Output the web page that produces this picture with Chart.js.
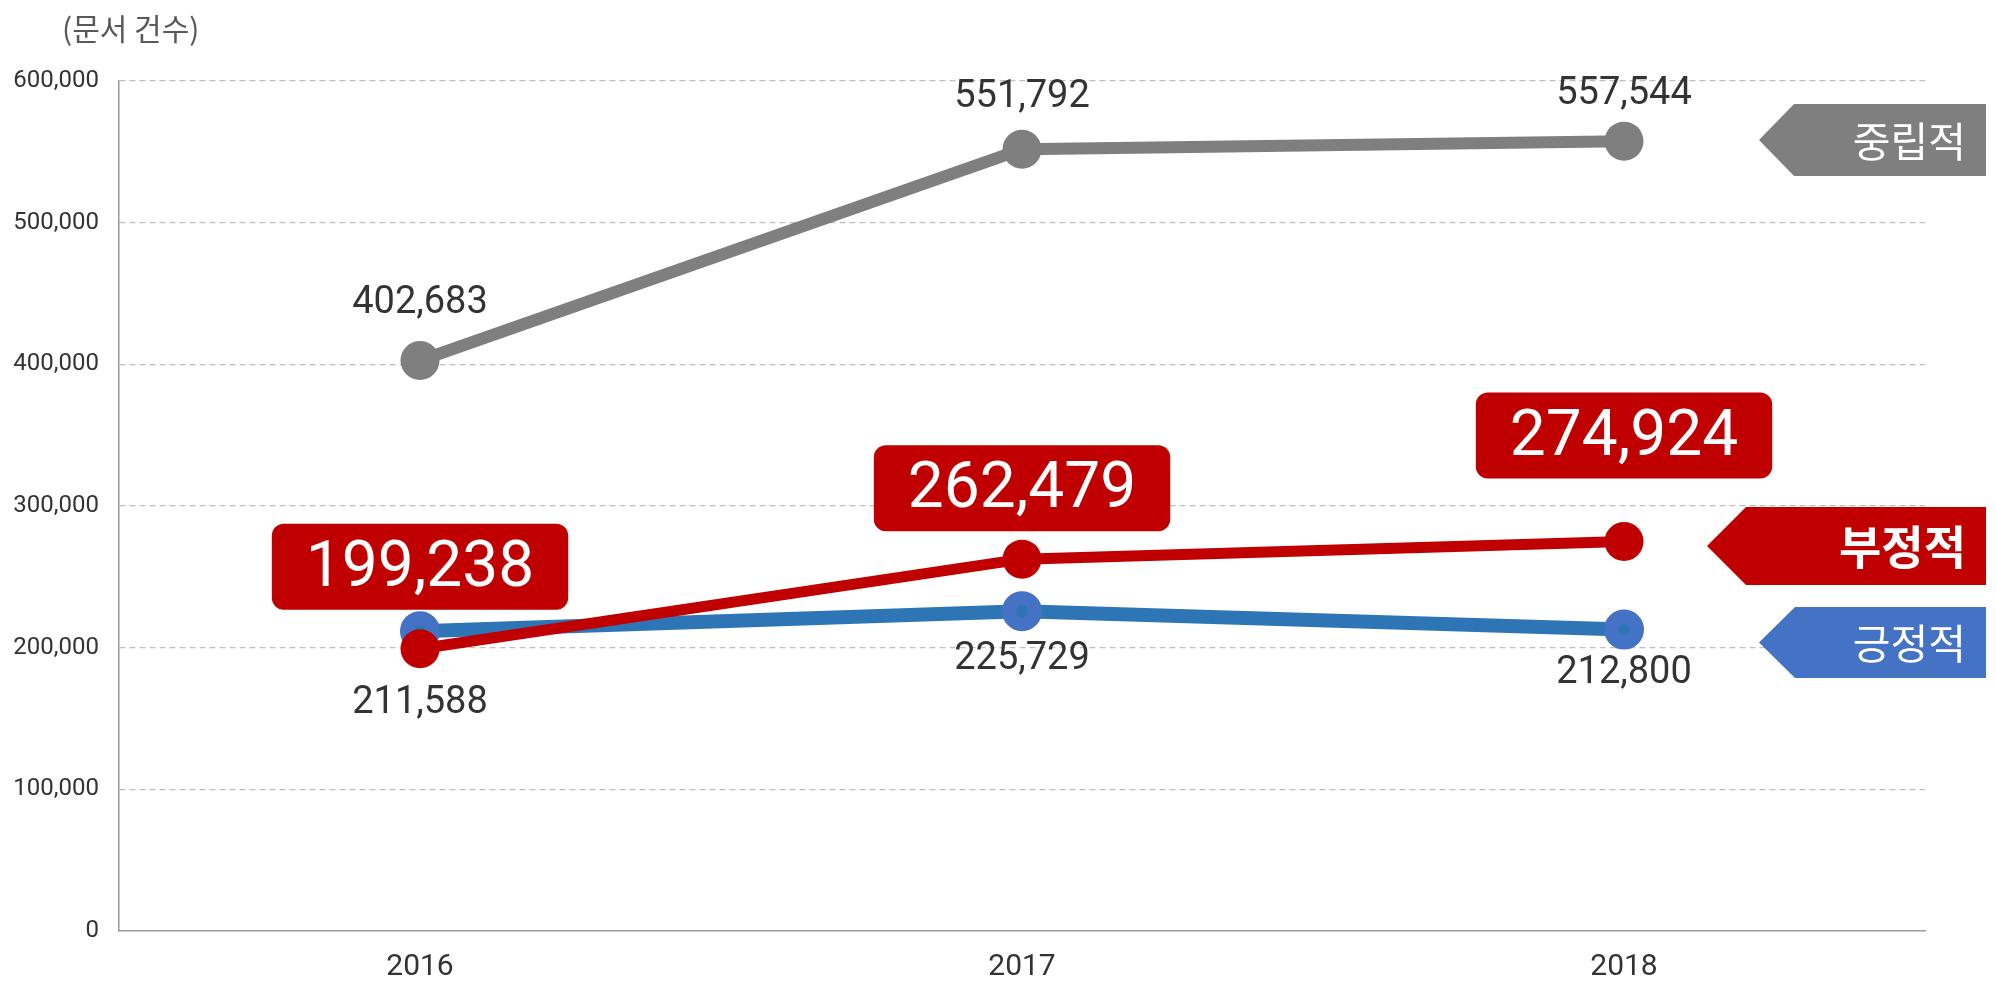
<!DOCTYPE html>
<html><head><meta charset="utf-8">
<script src="https://cdn.jsdelivr.net/npm/chart.js@4"></script>
<style>html,body{margin:0;padding:0;background:#fff}#wrap{width:1996px;height:983px}</style>
</head><body><div id="wrap"><canvas id="c" width="1996" height="983"></canvas></div>
<script>
const categories = ['2016', '2017', '2018'];
const neutral = [402683, 551792, 557544];
const negative = [199238, 262479, 274924];
const positive = [211588, 225729, 212800];
const yTicks = [0, 100000, 200000, 300000, 400000, 500000, 600000];
const seriesNames = ['중립적', '부정적', '긍정적'];
const unitLabel = '(문서 건수)';

const fmt = v => v.toLocaleString('en-US');
const KR = '"Noto Sans CJK KR", "Noto Sans", sans-serif';
const NUM = 'Roboto, "Noto Sans", sans-serif';

const style = {
  neutral: { color: '#7F7F7F', dy: [-57, -52, -47] },
  negative: { color: '#C00000', dy: [-82, -71, -106] },
  positive: { color: '#2E75B6', point: '#4472C4', dy: [72, 48, 44] }
};

const labelPlugin = {
  id: 'labels',
  afterDatasetsDraw(chart) {
    const ctx = chart.ctx;
    ctx.save();
    chart.data.datasets.forEach((ds, di) => {
      const meta = chart.getDatasetMeta(di);
      const st = style[ds.key];
      meta.data.forEach((pt, i) => {
        const txt = fmt(ds.data[i]);
        const x = pt.x, y = pt.y + st.dy[i];
        if (ds.key === 'negative') {
          ctx.font = '64px ' + NUM;
          const w = ctx.measureText(txt).width + 68, h = 86;
          ctx.fillStyle = st.color;
          ctx.beginPath();
          ctx.roundRect(x - w / 2, y - h / 2, w, h, 12);
          ctx.fill();
          ctx.fillStyle = '#fff';
          ctx.textAlign = 'center';
          ctx.textBaseline = 'middle';
          ctx.fillText(txt, x, y + 3);
        } else {
          ctx.font = '38px ' + NUM;
          ctx.fillStyle = '#333';
          ctx.textAlign = 'center';
          ctx.textBaseline = 'middle';
          ctx.fillText(txt, x, y);
        }
      });
    });
    // unit label
    ctx.font = '30px ' + KR;
    ctx.fillStyle = '#595959';
    ctx.textAlign = 'left';
    ctx.textBaseline = 'middle';
    ctx.fillText(unitLabel, 62, 29);
    // legend tags
    const tags = [
      { name: seriesNames[0], color: style.neutral.color, tip: 1759, flat: 1794, top: 104, bot: 176, font: '41px ' + KR },
      { name: seriesNames[1], color: style.negative.color, tip: 1707, flat: 1746, top: 507, bot: 585, font: 'bold 46px ' + KR },
      { name: seriesNames[2], color: style.positive.point, tip: 1759, flat: 1795, top: 607, bot: 678, font: '41px ' + KR }
    ];
    tags.forEach(t => {
      ctx.fillStyle = t.color;
      ctx.beginPath();
      ctx.moveTo(t.tip, (t.top + t.bot) / 2);
      ctx.lineTo(t.flat, t.top);
      ctx.lineTo(1986, t.top);
      ctx.lineTo(1986, t.bot);
      ctx.lineTo(t.flat, t.bot);
      ctx.closePath();
      ctx.fill();
      ctx.fillStyle = '#fff';
      ctx.font = t.font;
      ctx.textAlign = 'right';
      ctx.textBaseline = 'middle';
      ctx.fillText(t.name, 1966, (t.top + t.bot) / 2 + 1);
    });
    ctx.restore();
  }
};

new Chart(document.getElementById('c'), {
  type: 'line',
  data: {
    labels: categories,
    datasets: [
      { key: 'negative', label: seriesNames[1], data: negative, borderColor: style.negative.color, backgroundColor: style.negative.color,
        borderWidth: 11, pointRadius: 19.5, pointHoverRadius: 19.5, pointBackgroundColor: style.negative.color, pointBorderWidth: 0, order: 1 },
      { key: 'positive', label: seriesNames[2], data: positive, borderColor: style.positive.color, backgroundColor: style.positive.color,
        borderWidth: 14, pointRadius: 13, pointHoverRadius: 13, pointBackgroundColor: style.positive.color, pointBorderColor: style.positive.point, pointBorderWidth: 14, order: 2 },
      { key: 'neutral', label: seriesNames[0], data: neutral, borderColor: style.neutral.color, backgroundColor: style.neutral.color,
        borderWidth: 12, pointRadius: 19.5, pointHoverRadius: 19.5, pointBackgroundColor: style.neutral.color, pointBorderWidth: 0, order: 3 }
    ]
  },
  options: {
    responsive: false,
    animation: false,
    devicePixelRatio: 1,
    layout: { padding: { top: 81, right: 71, left: 0, bottom: 0 } },
    plugins: { legend: { display: false }, tooltip: { enabled: false }, title: { display: false } },
    scales: {
      x: {
        offset: true,
        grid: { display: false, drawTicks: false },
        border: { display: true, color: '#999', width: 1.5 },
        ticks: { font: { family: NUM, size: 30 }, color: '#333', padding: 18 },
        afterFit(s) { s.height = 52; }
      },
      y: {
        min: 0, max: 600000,
        afterBuildTicks(s) { s.ticks = yTicks.map(v => ({ value: v })); },
        grid: {
          drawTicks: false,
          color: c => (c.tick && c.tick.value === 0) ? 'rgba(0,0,0,0)' : '#BFBFBF',
          lineWidth: 1.2
        },
        border: { display: true, color: '#999', width: 1.5, dash: [6, 4] },
        ticks: { font: { family: NUM, size: 24 }, color: '#333', padding: 20, callback: v => fmt(v) },
        afterFit(s) { s.width = 119; }
      }
    }
  },
  plugins: [labelPlugin]
});
</script></body></html>
